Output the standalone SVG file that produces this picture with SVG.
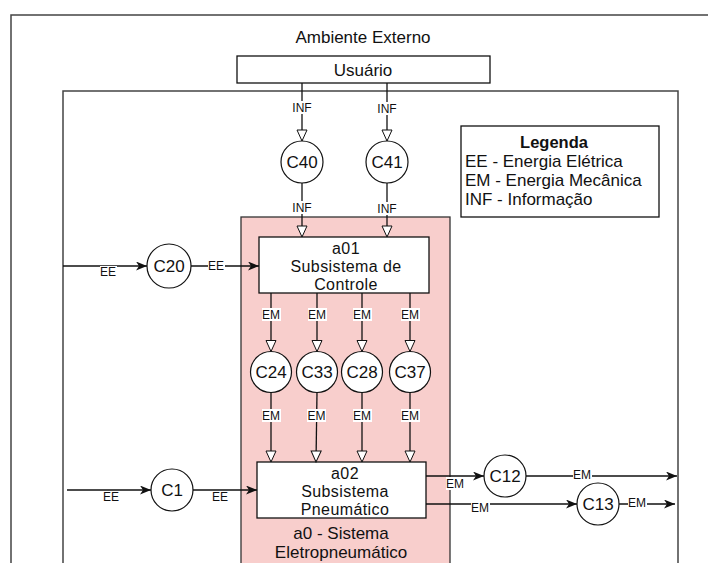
<svg xmlns="http://www.w3.org/2000/svg" width="708" height="563" viewBox="0 0 708 563">
<defs>
<style>
text{font-family:"Liberation Sans",Arial,sans-serif;fill:#111;text-anchor:middle}
.t17{font-size:17px}
.t175{font-size:16px;letter-spacing:0.4px}
.lbl{font-size:12px}
.lbg{fill:#fff}
.ln{stroke:#111;stroke-width:1.3;fill:none}
.frame{stroke:#444;stroke-width:1.5;fill:none}
.box{fill:#fff;stroke:#111;stroke-width:1.3}
.circ{fill:#fff;stroke:#111;stroke-width:1.2}
.open{marker-end:url(#openTri)}
.fill{marker-end:url(#fillArr)}
</style>
<marker id="openTri" viewBox="-1 -1 13 12" refX="11" refY="5" markerWidth="13" markerHeight="12" markerUnits="userSpaceOnUse" orient="auto">
<path d="M0,0 L11,5 L0,10 Z" fill="#fff" stroke="#111" stroke-width="1"/>
</marker>
<marker id="fillArr" viewBox="0 0 11 9" refX="11" refY="4.5" markerWidth="11" markerHeight="9" markerUnits="userSpaceOnUse" orient="auto">
<path d="M0,0 L11,4.5 L0,9 L3,4.5 Z" fill="#111"/>
</marker>
</defs>
<rect width="708" height="563" fill="#fff"/>

<g id="ambiente-externo">
<path class="frame" d="M11,563 V15 H708"/>
<text class="t17" x="363" y="43">Ambiente Externo</text>
</g>
<g id="frame-interno">
<path class="frame" d="M63,563 V91 H678 V563"/>
</g>
<g id="usuario">
<rect class="box" x="237" y="56" width="253" height="27"/>
<text class="t17" x="363" y="76">Usuário</text>
</g>
<g id="legenda">
<rect class="box" x="461" y="126" width="198" height="91"/>
<text x="554" y="148" style="font-size:16.5px;font-weight:bold">Legenda</text>
<text class="t17" x="465" y="167" style="text-anchor:start">EE - Energia Elétrica</text>
<text class="t17" x="465" y="186" style="text-anchor:start">EM - Energia Mecânica</text>
<text class="t17" x="465" y="205" style="text-anchor:start">INF - Informação</text>
</g>
<g id="a0">
<rect x="241" y="217" width="209" height="360" fill="#f8cecc" stroke="#333" stroke-width="1.3"/>
<text class="t17" x="341" y="539">a0 - Sistema</text>
<text class="t17" x="341" y="558">Eletropneumático</text>
</g>
<g id="a01">
<rect class="box" x="259" y="237" width="170" height="56"/>
<text class="t175" x="346" y="253.5">a01</text>
<text class="t175" x="346" y="271.5">Subsistema de</text>
<text class="t175" x="346" y="289.5">Controle</text>
</g>
<g id="a02">
<rect class="box" x="257" y="462" width="169" height="56"/>
<text class="t175" x="345" y="478.5">a02</text>
<text class="t175" x="345" y="496.5">Subsistema</text>
<text class="t175" x="345" y="514.5">Pneumático</text>
</g>
<g id="C40"><circle class="circ" cx="302" cy="162" r="21"/><text class="t17" x="302" y="168">C40</text></g>
<g id="C41"><circle class="circ" cx="387" cy="162" r="21"/><text class="t17" x="387" y="168">C41</text></g>
<g id="C20"><circle class="circ" cx="169" cy="266" r="22"/><text class="t17" x="169" y="272">C20</text></g>
<g id="C24"><circle class="circ" cx="271" cy="372" r="20.5"/><text class="t17" x="271" y="378">C24</text></g>
<g id="C33"><circle class="circ" cx="317" cy="372" r="20.5"/><text class="t17" x="317" y="378">C33</text></g>
<g id="C28"><circle class="circ" cx="362" cy="372" r="20.5"/><text class="t17" x="362" y="378">C28</text></g>
<g id="C37"><circle class="circ" cx="410" cy="372" r="20.5"/><text class="t17" x="410" y="378">C37</text></g>
<g id="C1"><circle class="circ" cx="172" cy="490" r="21"/><text class="t17" x="172" y="496">C1</text></g>
<g id="C12"><circle class="circ" cx="505" cy="476" r="21"/><text class="t17" x="505" y="482">C12</text></g>
<g id="C13"><circle class="circ" cx="598" cy="504" r="21"/><text class="t17" x="598" y="510">C13</text></g>

<g id="connectors">
<path class="ln open" d="M302,83 V141"/>
<path class="ln open" d="M387,83 V141"/>
<path class="ln open" d="M302,183 V237"/>
<path class="ln open" d="M387,183 V237"/>
<path class="ln fill" d="M63,266 H147"/>
<path class="ln fill" d="M191,266 H259"/>
<path class="ln open" d="M271,293 V351.5"/>
<path class="ln open" d="M317,293 V351.5"/>
<path class="ln open" d="M362,293 V351.5"/>
<path class="ln open" d="M410,293 V351.5"/>
<path class="ln open" d="M271,392.5 V462"/>
<path class="ln open" d="M317,392.5 L316,462"/>
<path class="ln open" d="M362,392.5 V462"/>
<path class="ln open" d="M410,392.5 V462"/>
<path class="ln fill" d="M67,490 H151"/>
<path class="ln fill" d="M193,490 H257"/>
<path class="ln fill" d="M426,476 H484"/>
<path class="ln fill" d="M526,476 H677"/>
<path class="ln fill" d="M426,504 H577"/>
<path class="ln fill" d="M619,504 H675"/>
<g id="labels" class="lbl">
<rect class="lbg" x="292" y="101" width="20" height="13"/><text x="302" y="112">INF</text>
<rect class="lbg" x="377" y="102" width="20" height="13"/><text x="387" y="113">INF</text>
<rect class="lbg" x="292" y="201" width="20" height="13"/><text x="302" y="212">INF</text>
<rect class="lbg" x="377" y="202" width="20" height="13"/><text x="387" y="213">INF</text>
<rect class="lbg" x="100" y="266" width="17" height="12"/><text x="108" y="276">EE</text>
<rect class="lbg" x="208" y="260" width="17" height="12"/><text x="216" y="270">EE</text>
<rect class="lbg" x="262" y="308" width="19" height="13"/><text x="271" y="319">EM</text>
<rect class="lbg" x="308" y="308" width="19" height="13"/><text x="317" y="319">EM</text>
<rect class="lbg" x="353" y="308" width="19" height="13"/><text x="362" y="319">EM</text>
<rect class="lbg" x="401" y="308" width="19" height="13"/><text x="410" y="319">EM</text>
<rect class="lbg" x="262" y="409" width="19" height="13"/><text x="271" y="420">EM</text>
<rect class="lbg" x="307" y="409" width="19" height="13"/><text x="316.5" y="420">EM</text>
<rect class="lbg" x="353" y="409" width="19" height="13"/><text x="362" y="420">EM</text>
<rect class="lbg" x="401" y="409" width="19" height="13"/><text x="410" y="420">EM</text>
<rect class="lbg" x="103" y="491" width="17" height="12"/><text x="111" y="501">EE</text>
<rect class="lbg" x="212" y="491" width="17" height="12"/><text x="220" y="501">EE</text>
<rect class="lbg" x="446" y="477" width="19" height="13"/><text x="455" y="488">EM</text>
<rect class="lbg" x="573" y="469" width="19" height="12"/><text x="582" y="479">EM</text>
<rect class="lbg" x="471" y="502" width="19" height="12"/><text x="480" y="512">EM</text>
<rect class="lbg" x="628" y="497" width="19" height="12"/><text x="637" y="507">EM</text>
</g>
</g>
</svg>
